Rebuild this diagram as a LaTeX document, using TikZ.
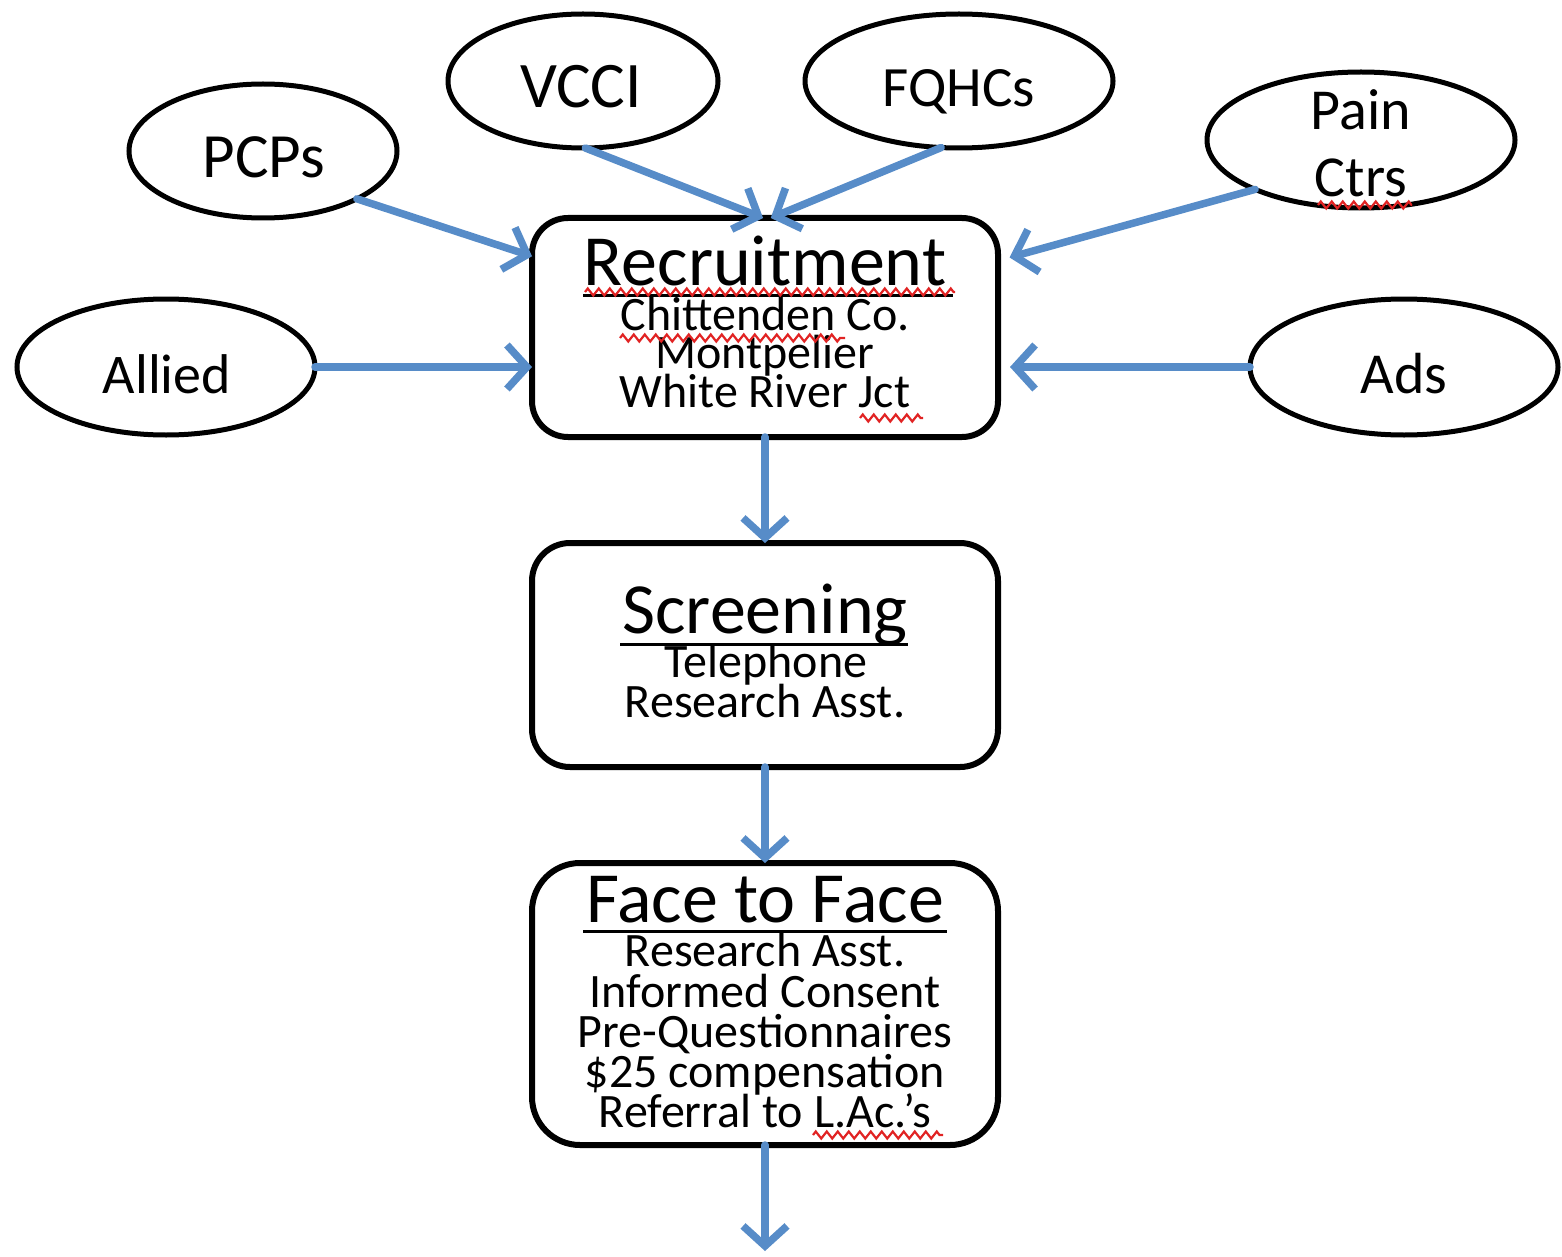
\documentclass[tikz,border=0pt]{standalone}
\usepackage{fontspec}
\setmainfont{Carlito}
\usetikzlibrary{shapes.geometric,arrows.meta,decorations.pathmorphing,calc}
\definecolor{arrowblue}{RGB}{87,140,200}
\definecolor{squigred}{RGB}{225,35,35}
\begin{document}
\begin{tikzpicture}[x=1pt,y=-1pt,
  src/.style={ellipse,draw,line width=5pt,inner sep=0pt,outer sep=0pt,fill=white},
  stage/.style={rectangle,draw,line width=6pt,inner sep=0pt,outer sep=0pt,minimum width=466pt,fill=white},
  lbl/.style={anchor=base,inner sep=0pt,font=\fontsize{58}{58}\selectfont},
  head/.style={anchor=base,inner sep=0pt,font=\fontsize{72}{72}\selectfont},
  sub/.style={anchor=base,inner sep=0pt,font=\fontsize{48}{48}\selectfont},
  flow/.style={draw=arrowblue,line width=7.5pt,-{Straight Barb[length=20pt,width=44pt]},line cap=round,line join=round},
  uline/.style={line width=3pt},
  squig/.style={draw=squigred,line width=2.2pt,decorate,decoration={zigzag,segment length=11pt,amplitude=3.5pt}}
]
\useasboundingbox (0,0) rectangle (1562,1257);

% source ellipses
\node[src,minimum width=268pt,minimum height=134pt] (pcps) at (263,151) {};
\node[src,minimum width=270pt,minimum height=134pt] (vcci) at (583,81) {};
\node[src,minimum width=308pt,minimum height=134pt] (fqhc) at (959,81) {};
\node[src,minimum width=308pt,minimum height=136pt] (pain) at (1361,140) {};
\node[src,minimum width=298pt,minimum height=136pt] (allied) at (166,367) {};
\node[src,minimum width=308pt,minimum height=136pt] (ads) at (1404,367) {};

\node[lbl,font=\fontsize{63}{63}\selectfont] (pcpst) at (264,178) {PCPs};
\node[lbl,font=\fontsize{65}{65}\selectfont] (vccit) at (581,108) {VCCI};
\node[lbl,font=\fontsize{57}{57}\selectfont] (fqhct) at (959,107) {FQHCs};
\node[lbl] (paint) at (1361,130) {Pain};
\node[lbl] (ctrst) at (1361,197) {Ctrs};
\node[lbl,font=\fontsize{56}{56}\selectfont] (alliedt) at (167,393) {Allied};
\node[lbl] (adst) at (1404,393) {Ads};

% stage boxes
\node[stage,minimum height=219pt,rounded corners=36pt] (rec) at (765,327.5) {};
\node[stage,minimum height=224pt,rounded corners=38pt] (scr) at (765,655) {};
\node[stage,minimum height=282pt,rounded corners=48pt] (f2f) at (765,1004) {};
\coordinate (out) at (765,1251);

% recruitment text
\node[head] (rech) at (765,285) {Recruitment};
\draw[uline] (583,295) -- (953,295);
\node[sub] (rec1) at (765,330) {Chittenden Co.};
\node[sub] (rec2) at (765,368) {Montpelier};
\node[sub] (rec3) at (765,407) {White River Jct};

% screening text
\node[head] (scrh) at (765,633) {Screening};
\draw[uline] (620,644) -- (908,644);
\node[sub] (scr1) at (766,677) {Telephone};
\node[sub] (scr2) at (765,717) {Research Asst.};

% face to face text
\node[head] (f2fh) at (765,922) {Face to Face};
\draw[uline] (583,931) -- (947,931);
\node[sub] (f2f1) at (765,966) {Research Asst.};
\node[sub] (f2f2) at (765,1007) {Informed Consent};
\node[sub] (f2f3) at (765,1047) {Pre-Questionnaires};
\node[sub] (f2f4) at (765,1087) {\$25 compensation};
\node[sub] (f2f5) at (765,1127) {Referral to L.Ac.’s};

% spell-check marks
\draw[squig] (585,292) -- (955,292);
\draw[squig] (620,338) -- (845,338);
\draw[squig] (860,418) -- (923,418);
\draw[squig] (1318,205) -- (1412,205);
\draw[squig] (813,1135) -- (943,1135);

% connectors
\draw[flow] (pcps.-27) -- (rec.163.4);
\draw[flow] (vcci.-88) -- (rec.91.6);
\draw[flow] (fqhc.-105) -- (rec.87.4);
\draw[flow,shorten >=12pt] (pain.-155.8) -- (rec.16.6);
\draw[flow] (allied.east) -- (allied.east -| rec.west);
\draw[flow,shorten >=12pt] (ads.west) -- (ads.west -| rec.east);
\draw[flow] (rec.south) -- (scr.north);
\draw[flow] (scr.south) -- (f2f.north);
\draw[flow] (f2f.south) -- (out);
\end{tikzpicture}
\end{document}
